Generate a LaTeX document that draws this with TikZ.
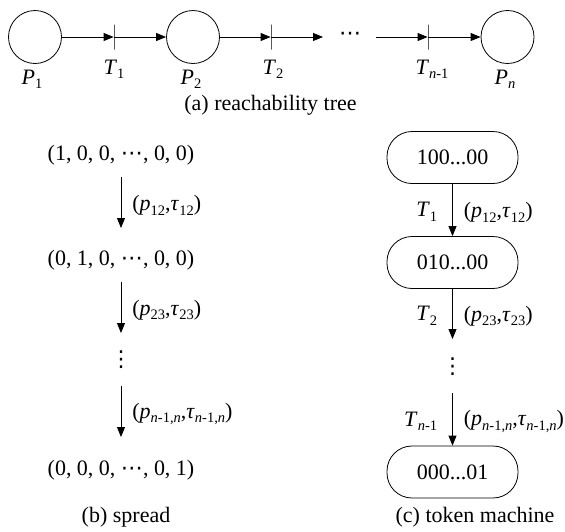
\documentclass[tikz,border=0pt]{standalone}
\usepackage{fontspec}
\setmainfont{Liberation Serif}
\newfontfamily\symf{DejaVu Sans}
\usetikzlibrary{arrows.meta}
\newcommand\sbx[1]{\raisebox{-0.22em}{\fontsize{14.5}{14.5}\selectfont #1}}
\newcommand\itx[1]{\textit{#1}}
\newcommand\hdots{{\symf ⋯}}
\begin{document}
\begin{tikzpicture}[x=1pt,y=-1pt,
  every node/.style={font=\fontsize{22}{26}\selectfont, inner sep=0pt},
  line width=0.8pt,
  >={Triangle[length=10pt,width=8pt]},
  place/.style={circle, draw, minimum size=53pt, inner sep=0pt},
  tbar/.style={draw, rectangle, minimum width=0pt, minimum height=25pt, inner sep=0pt},
  state/.style={draw, rounded corners=25pt, minimum width=131pt, minimum height=52pt},
  lbl/.style={anchor=base},
  dotsym/.style={font=\symf\fontsize{22}{22}\selectfont}]
\useasboundingbox (0,0) rectangle (565,531);
% (a) reachability tree
\node[place] (P1) at (35,37) {};
\node[tbar] (T1) at (114,37) {};
\node[place] (P2) at (193,37) {};
\node[tbar] (T2) at (271,37) {};
\coordinate (e2) at (323,37);
\node[dotsym] (hd) at (350,36) {⋯};
\coordinate (s3) at (376,37);
\node[tbar] (Tn) at (428,37) {};
\node[place] (Pn) at (507.5,37) {};
\draw[->] (P1) -- (T1);
\draw[->] (T1) -- (P2);
\draw[->] (P2) -- (T2);
\draw[->] (T2) -- (e2);
\draw[->] (s3) -- (Tn);
\draw[->] (Tn) -- (Pn);
\node[lbl] (lP1) at (32,84) {\itx{P}\sbx{1}};
\node[lbl] (lT1) at (114,74) {\itx{T}\sbx{1}};
\node[lbl] (lP2) at (191,84) {\itx{P}\sbx{2}};
\node[lbl] (lT2) at (273,74) {\itx{T}\sbx{2}};
\node[lbl] (lTn) at (432,74) {\itx{T}\sbx{\itx{n}-1}};
\node[lbl] (lPn) at (505,84) {\itx{P}\sbx{\itx{n}}};
\node[lbl] (capa) at (270.5,110) {(a) reachability tree};
% (b) spread
\node[lbl] (b1) at (121,160) {(1, 0, 0, \hdots, 0, 0)};
\node[lbl] (b2) at (121,265) {(0, 1, 0, \hdots, 0, 0)};
\node[dotsym] (bv) at (121,360) {⋮};
\node[lbl] (b4) at (121,475) {(0, 0, 0, \hdots, 0, 1)};
\coordinate (b1s) at (121,177);
\coordinate (b2n) at (121,228);
\coordinate (b2s) at (121,282);
\coordinate (b3n) at (121,333);
\coordinate (b3s) at (121,386);
\coordinate (b4n) at (121,437);
\draw[->] (b1s) -- (b2n);
\draw[->] (b2s) -- (b3n);
\draw[->] (b3s) -- (b4n);
\node[anchor=west] (lb1) at (132,205) {(\itx{p}\sbx{12},\itx{τ}\sbx{12})};
\node[anchor=west] (lb2) at (132,310) {(\itx{p}\sbx{23},\itx{τ}\sbx{23})};
\node[anchor=west] (lb3) at (132,414) {(\itx{p}\sbx{\itx{n}-1,\itx{n}},\itx{τ}\sbx{\itx{n}-1,\itx{n}})};
\node[lbl] (capb) at (126,522) {(b) spread};
% (c) token machine
\node[state] (c1) at (452.5,157.5) {100...00};
\node[state] (c2) at (452.5,262.5) {010...00};
\node[state] (c3) at (452.5,472) {000...01};
\coordinate (c2e) at (452.5,339);
\node[dotsym] (cv) at (452.5,367) {⋮};
\coordinate (c3s) at (452.5,393);
\draw[->] (c1) -- (c2)
  node[midway, anchor=east, xshift=-15pt, yshift=-2pt] (lt1) {\itx{T}\sbx{1}}
  node[midway, anchor=west, xshift=11pt, yshift=-2pt] (lc1) {(\itx{p}\sbx{12},\itx{τ}\sbx{12})};
\draw[->] (c2) -- (c2e)
  node[midway, anchor=east, xshift=-15pt, yshift=-2pt] (lt2) {\itx{T}\sbx{2}}
  node[midway, anchor=west, xshift=11pt, yshift=-2pt] (lc2) {(\itx{p}\sbx{23},\itx{τ}\sbx{23})};
\draw[->] (c3s) -- (c3)
  node[midway, anchor=east, xshift=-15pt, yshift=-2pt] (lt3) {\itx{T}\sbx{\itx{n}-1}}
  node[midway, anchor=west, xshift=11pt, yshift=-2pt] (lc3) {(\itx{p}\sbx{\itx{n}-1,\itx{n}},\itx{τ}\sbx{\itx{n}-1,\itx{n}})};
\node[lbl] (capc) at (475,522) {(c) token machine};
\end{tikzpicture}
\end{document}
